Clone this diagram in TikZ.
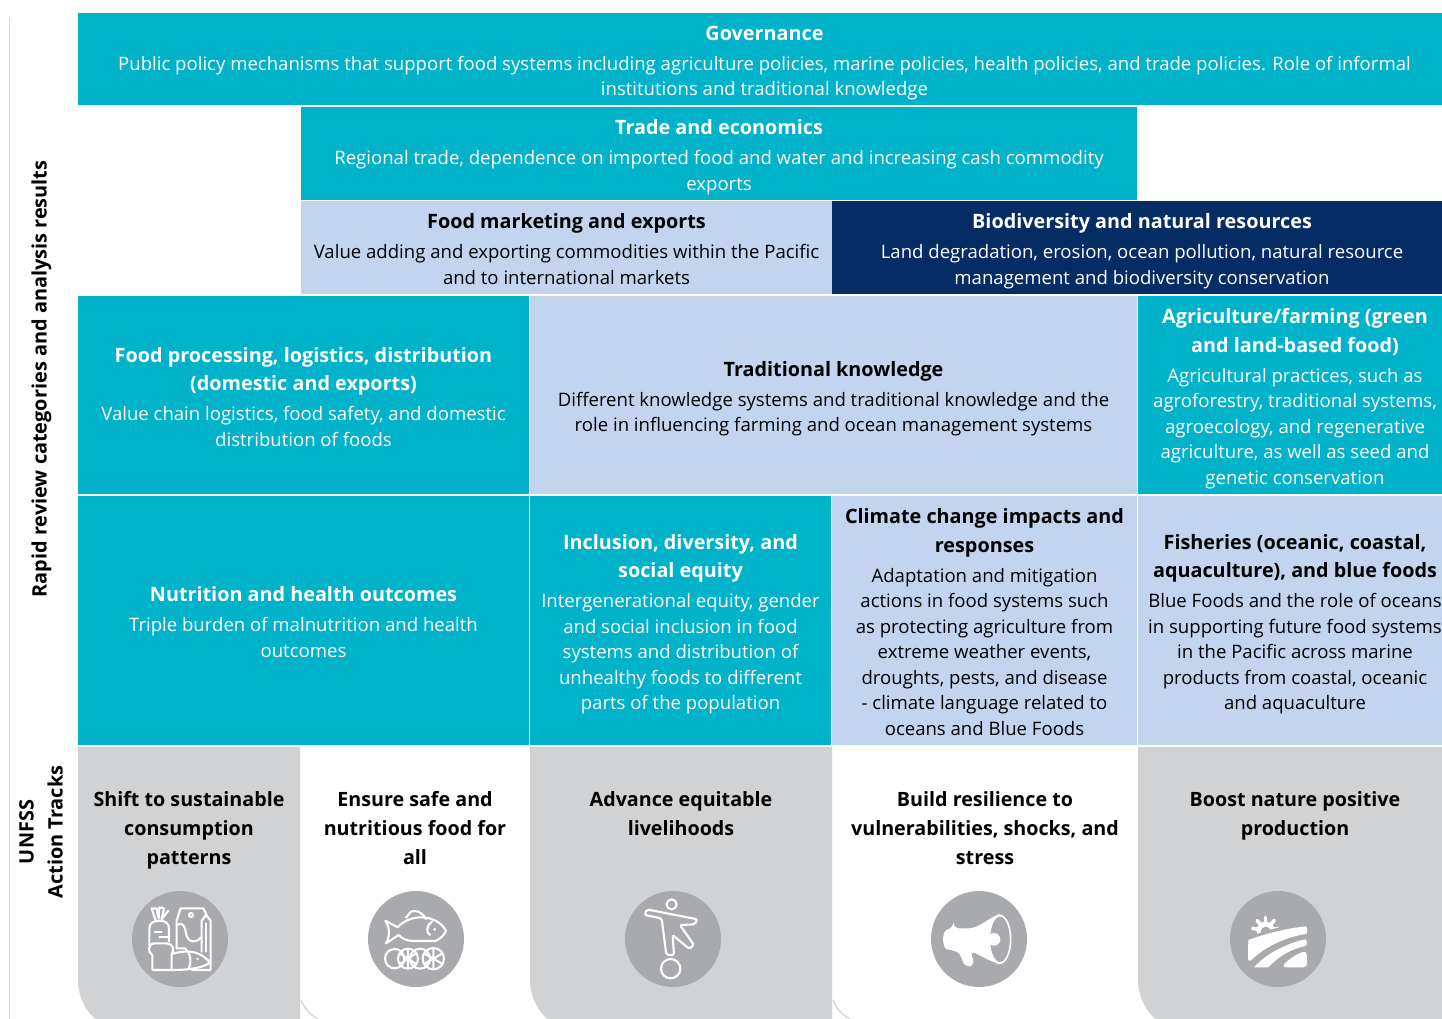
\documentclass[tikz,border=0pt]{standalone}
\usepackage{fontspec}
\setmainfont{Open Sans}
\definecolor{teal}{RGB}{0,178,202}
\definecolor{pale}{RGB}{195,213,238}
\definecolor{navy}{RGB}{5,44,101}
\definecolor{panel}{RGB}{209,210,212}
\definecolor{disc}{RGB}{169,170,173}
\definecolor{edgegray}{RGB}{215,216,218}
\newcommand{\ttl}[1]{{\fontsize{19.8}{25.5}\bfseries\selectfont #1}}
\tikzset{
  x=1pt,y=-1pt,
  catbox/.style={rectangle,inner sep=0pt,align=center,font=\fontsize{18.57}{25.5}\selectfont},
  tealbox/.style={catbox,fill=teal,text=white},
  palebox/.style={catbox,fill=pale,text=black},
  navybox/.style={catbox,fill=navy,text=white},
  tracktext/.style={anchor=north,inner sep=0pt,align=center,text=black,font=\fontsize{19.7}{29}\bfseries\selectfont},
  sidetext/.style={rotate=90,inner sep=0pt,align=center,text=black,font=\fontsize{19.9}{29}\bfseries\selectfont},
  discnode/.style={circle,fill=disc,minimum size=96pt,inner sep=0pt},
  iconline/.style={draw=white,line width=2.1pt,line join=round,line cap=round},
  zoomicon/.style={x=.3333pt,y=-.3333pt},
}
\newcommand{\boxat}[7]{% name, style, x0,y0,x1,y1, text
  \pgfmathsetmacro{\bw}{#5-#3}\pgfmathsetmacro{\bh}{#6-#4}
  \pgfmathsetmacro{\bx}{(#5+#3)/2}\pgfmathsetmacro{\by}{(#6+#4)/2}
  \node[#2,minimum width=\bw pt,minimum height=\bh pt] (#1) at (\bx,\by) {\rule{0pt}{25.9pt}#7\strut};}
\begin{document}
\begin{tikzpicture}
\useasboundingbox (0,0) rectangle (1442,1019);
\clip (0,0) rectangle (1442,1019);
\draw[edgegray,line width=1pt] (9.5,17) -- (9.5,1019);
% category boxes
\boxat{gov}{tealbox}{78}{13}{1451}{105}{\ttl{Governance}\\[4.5pt]Public policy mechanisms that support food systems including agriculture policies, marine policies, health policies, and trade policies. Role of informal\\institutions and traditional knowledge}
\boxat{trade}{tealbox}{301}{107}{1137}{200}{\ttl{Trade and economics}\\[4.5pt]Regional trade, dependence on imported food and water and increasing cash commodity\\exports}
\boxat{market}{palebox}{301}{201}{832}{294}{\ttl{Food marketing and exports}\\[4.5pt]Value adding and exporting commodities within the Pacific\\and to international markets}
\boxat{bio}{navybox}{832}{201}{1452}{294}{\ttl{Biodiversity and natural resources}\\[4.5pt]Land degradation, erosion, ocean pollution, natural resource\\management and biodiversity conservation}
\boxat{proc}{tealbox}{78}{296}{529}{494}{\ttl{Food processing, logistics, distribution}\\[3pt]\ttl{(domestic and exports)}\\[4.5pt]Value chain logistics, food safety, and domestic\\distribution of foods}
\boxat{trad}{palebox}{530}{296}{1137}{494}{\ttl{Traditional knowledge}\\[4.5pt]Different knowledge systems and traditional knowledge and the\\role in influencing farming and ocean management systems}
\boxat{agri}{tealbox}{1138}{296}{1452}{494}{\ttl{Agriculture/farming (green}\\[3pt]\ttl{and land-based food)}\\[4.5pt]Agricultural practices, such as\\agroforestry, traditional systems,\\agroecology, and regenerative\\agriculture, as well as seed and\\genetic conservation}
\boxat{nutr}{tealbox}{78}{496}{529}{745}{\ttl{Nutrition and health outcomes}\\[4.5pt]Triple burden of malnutrition and health\\outcomes}
\boxat{incl}{tealbox}{530}{496}{831}{745}{\ttl{Inclusion, diversity, and}\\[3pt]\ttl{social equity}\\[4.5pt]Intergenerational equity, gender\\and social inclusion in food\\systems and distribution of\\unhealthy foods to different\\parts of the population}
\boxat{clim}{palebox}{832}{496}{1137}{745}{\ttl{Climate change impacts and}\\[3pt]\ttl{responses}\\[4.5pt]Adaptation and mitigation\\actions in food systems such\\as protecting agriculture from\\extreme weather events,\\droughts, pests, and disease\\- climate language related to\\oceans and Blue Foods}
\boxat{fish}{palebox}{1138}{496}{1452}{745}{\ttl{Fisheries (oceanic, coastal,}\\[3pt]\ttl{aquaculture), and blue foods}\\[4.5pt]Blue Foods and the role of oceans\\in supporting future food systems\\in the Pacific across marine\\products from coastal, oceanic\\and aquaculture}
% track panels
\fill[panel] (78,747) [rounded corners=53pt] -- (78,1033) [sharp corners] -- (300,1033) -- (300,747) -- cycle;
\fill[panel] (530,747) [rounded corners=53pt] -- (530,1033) [sharp corners] -- (832,1033) -- (832,747) -- cycle;
\fill[panel] (1138,747) [rounded corners=53pt] -- (1138,1033) [sharp corners] -- (1442,1033) -- (1442,747) -- cycle;
\draw[edgegray,line width=1.5pt] (301,1000) .. controls (304,1008) and (310,1015) .. (318,1019);
\draw[edgegray,line width=1.5pt] (833,1000) .. controls (836,1008) and (842,1015) .. (850,1019);
% side labels
\node[sidetext] (side) at (41.5,379) {Rapid review categories and analysis results};
\node[sidetext] (unfss) at (41,832) {UNFSS\\Action Tracks};
% track texts
\node[tracktext] (t1) at (189,791.7) {Shift to sustainable\\consumption\\patterns};
\node[tracktext] (t2) at (415,791.7) {Ensure safe and\\nutritious food for\\all};
\node[tracktext] (t3) at (681,791.7) {Advance equitable\\livelihoods};
\node[tracktext] (t4) at (985,791.7) {Build resilience to\\vulnerabilities, shocks, and\\stress};
\node[tracktext] (t5) at (1295,791.7) {Boost nature positive\\production};
% discs
\node[discnode] (d1) at (180,939) {};
\node[discnode] (d2) at (416,939) {};
\node[discnode] (d3) at (673,939) {};
\node[discnode] (d4) at (979,939) {};
\node[discnode] (d5) at (1278,939) {};
% icon 1: groceries
\begin{scope}[shift={(120,880)},zoomicon]
\draw[iconline] (108,125) -- (95,85) -- (110,85) -- (116,115) -- (118,82) -- (132,85) -- (125,118) -- (145,92);
\draw[iconline] (88,195) -- (88,145) .. controls (88,130) and (100,122) .. (118,122) .. controls (135,122) and (147,130) .. (147,145) -- (147,185);
\draw[iconline] (105,155) -- (125,155) (118,172) -- (147,172);
\draw[iconline] (97,270) -- (97,225) .. controls (80,215) and (85,190) .. (105,190) -- (140,190) .. controls (158,190) and (165,210) .. (155,222) (97,270) -- (155,270) (155,222) -- (155,270);
\draw[iconline] (155,222) .. controls (190,212) and (235,205) .. (270,248) .. controls (250,262) and (215,270) .. (155,270);
\draw[iconline] (205,216) .. controls (215,235) and (212,255) .. (205,268);
\fill[white] (233,237) circle (4);
\draw[iconline] (170,205) -- (170,122) -- (182,85) -- (250,85) -- (262,110);
\draw[iconline] (172,135) .. controls (190,125) and (195,140) .. (198,160) .. controls (203,190) and (230,190) .. (243,172);
\draw[iconline] (245,215) -- (245,122) -- (258,105) -- (272,122) -- (272,270) -- (215,270);
\draw[iconline] (258,130) -- (258,215);
\draw[iconline] (213,105) circle (6);
\draw[iconline] (170,205) -- (195,205) -- (203,215);
\end{scope}
% icon 2: fish and citrus
\begin{scope}[shift={(356,880)},zoomicon]
\draw[iconline] (125,142) -- (88,122) .. controls (100,140) and (104,165) .. (90,190) -- (128,165) .. controls (140,178) and (155,182) .. (170,183) -- (238,183) .. controls (255,175) and (265,165) .. (270,152) .. controls (255,125) and (225,112) .. (195,112) .. controls (165,112) and (140,125) .. (125,142);
\draw[iconline] (150,113) -- (165,95) .. controls (180,90) and (195,93) .. (210,117);
\draw[iconline] (228,125) .. controls (210,135) and (210,160) .. (222,165);
\fill[white] (236,148) circle (4.5);
\draw[iconline] (116,236) circle (29) (232,236) circle (32) (156,236) circle (30) (192,236) circle (30);
\draw[iconline] (232,204) -- (232,268) (204,220) -- (260,252) (204,252) -- (260,220);
\draw[iconline] (156,206) -- (156,266) (131,220) -- (181,252) (131,252) -- (181,220);
\end{scope}
% icon 3: person on ball
\begin{scope}[shift={(520,860)},zoomicon]
\draw[iconline] (455,133) circle (15);
\draw[iconline] (452,326) circle (29);
\draw[iconline,rounded corners=2pt] (425,175) -- (439,285) -- (462,285) -- (458,225) -- (508,267) -- (522,255) -- (480,195) -- (525,193) -- (532,178) -- (380,148) -- (374,165) -- cycle;
\end{scope}
% icon 4: megaphone
\begin{scope}[shift={(920,880)},zoomicon]
\fill[white,rounded corners=6pt] (100,145) -- (163,145) -- (232,103) -- (245,103) -- (245,252) -- (232,252) -- (150,212) -- (165,256) -- (135,262) -- (116,212) -- (100,212) .. controls (65,205) and (65,152) .. (100,145) -- cycle;
\draw[fill=disc,draw=white,line width=1.6pt] (240,178) ellipse (32 and 71);
\fill[white] (222,178) circle (19);
\end{scope}
% icon 5: field and sun
\begin{scope}[shift={(1000,860)},zoomicon]
\fill[white] (797,212) circle (27);
\foreach \a in {-170,-130,-90,-50,-10}{\draw[white,line width=3.6pt,line cap=round,shift={(797,212)}] (0,0) -- ({40*cos(\a)},{40*sin(\a)});}
\fill[disc] (797,215) circle (15);
\draw[disc,line width=4pt] (735,242) .. controls (800,215) and (860,200) .. (930,192);
\fill[disc] (730,245) -- (730,290) -- (744,290) -- (744,245) -- cycle;
\fill[white] (745,240) .. controls (800,220) and (860,205) .. (918,199) .. controls (923,200) and (923,220) .. (918,222) .. controls (850,232) and (790,265) .. (752,302) .. controls (748,304) and (744,302) .. (744,296) -- cycle;
\fill[white] (762,322) .. controls (800,280) and (860,250) .. (916,238) .. controls (922,240) and (922,255) .. (916,258) .. controls (870,268) and (835,290) .. (805,322) -- cycle;
\fill[white,rounded corners=4pt] (845,322) .. controls (865,298) and (890,282) .. (920,272) -- (922,322) -- cycle;
\end{scope}
\end{tikzpicture}
\end{document}
